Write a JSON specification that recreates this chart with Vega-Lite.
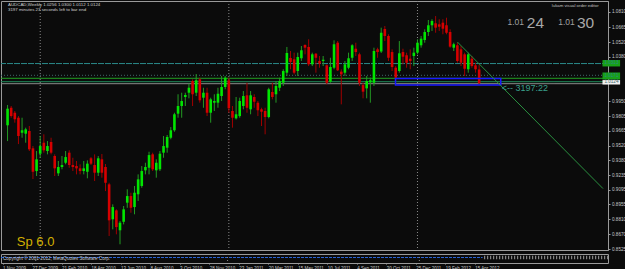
{
"$schema":"https://vega.github.io/schema/vega-lite/v6.json",
"background":"#0b0b0b",
"padding":0,
"spacing":1,
"config":{"view":{"stroke":"#9a9a9a","strokeWidth":1},"font":"Liberation Sans","axis":{"grid":false,"labelOverlap":false,"labelBound":false,"labelFlush":false}},
"datasets":{
"candles":[
{"d":"2009-11-01","o":0.9718,"h":0.9913,"l":0.9566,"c":0.9878},
{"d":"2009-11-08","o":0.9887,"h":0.9904,"l":0.9791,"c":0.9807},
{"d":"2009-11-15","o":0.9839,"h":0.9856,"l":0.9743,"c":0.9776},
{"d":"2009-11-22","o":0.9791,"h":0.9807,"l":0.9537,"c":0.9615},
{"d":"2009-11-29","o":0.9646,"h":0.9791,"l":0.9598,"c":0.9670},
{"d":"2009-12-06","o":0.9637,"h":0.9695,"l":0.9550,"c":0.9679},
{"d":"2009-12-13","o":0.9663,"h":0.9711,"l":0.9470,"c":0.9486},
{"d":"2009-12-20","o":0.9496,"h":0.9518,"l":0.9200,"c":0.9270},
{"d":"2009-12-27","o":0.9277,"h":0.9470,"l":0.9229,"c":0.9390},
{"d":"2010-01-03","o":0.9444,"h":0.9615,"l":0.9405,"c":0.9518},
{"d":"2010-01-10","o":0.9550,"h":0.9631,"l":0.9454,"c":0.9477},
{"d":"2010-01-17","o":0.9470,"h":0.9566,"l":0.9438,"c":0.9518},
{"d":"2010-01-24","o":0.9557,"h":0.9598,"l":0.9438,"c":0.9454},
{"d":"2010-01-31","o":0.9422,"h":0.9438,"l":0.9229,"c":0.9303},
{"d":"2010-02-07","o":0.9255,"h":0.9374,"l":0.9229,"c":0.9316},
{"d":"2010-02-14","o":0.9316,"h":0.9422,"l":0.9294,"c":0.9335},
{"d":"2010-02-21","o":0.9357,"h":0.9470,"l":0.9342,"c":0.9412},
{"d":"2010-02-28","o":0.9454,"h":0.9477,"l":0.9309,"c":0.9335},
{"d":"2010-03-07","o":0.9335,"h":0.9405,"l":0.9277,"c":0.9316},
{"d":"2010-03-14","o":0.9325,"h":0.9374,"l":0.9245,"c":0.9303},
{"d":"2010-03-21","o":0.9303,"h":0.9342,"l":0.9245,"c":0.9277},
{"d":"2010-03-28","o":0.9277,"h":0.9374,"l":0.9245,"c":0.9303},
{"d":"2010-04-04","o":0.9270,"h":0.9380,"l":0.9207,"c":0.9348},
{"d":"2010-04-11","o":0.9400,"h":0.9412,"l":0.9335,"c":0.9348},
{"d":"2010-04-18","o":0.9335,"h":0.9438,"l":0.9181,"c":0.9261},
{"d":"2010-04-25","o":0.9261,"h":0.9422,"l":0.9229,"c":0.9400},
{"d":"2010-05-02","o":0.9390,"h":0.9441,"l":0.9213,"c":0.9261},
{"d":"2010-05-09","o":0.9316,"h":0.9345,"l":0.9084,"c":0.9164},
{"d":"2010-05-16","o":0.9149,"h":0.9164,"l":0.8651,"c":0.8802},
{"d":"2010-05-23","o":0.8812,"h":0.8956,"l":0.8715,"c":0.8930},
{"d":"2010-05-30","o":0.8898,"h":0.8908,"l":0.8667,"c":0.8737},
{"d":"2010-06-06","o":0.8706,"h":0.8795,"l":0.8571,"c":0.8779},
{"d":"2010-06-13","o":0.8788,"h":0.8940,"l":0.8763,"c":0.8908},
{"d":"2010-06-20","o":0.8972,"h":0.9101,"l":0.8923,"c":0.9036},
{"d":"2010-06-27","o":0.9036,"h":0.9068,"l":0.8875,"c":0.8923},
{"d":"2010-07-04","o":0.8930,"h":0.9133,"l":0.8860,"c":0.9068},
{"d":"2010-07-11","o":0.9053,"h":0.9245,"l":0.8988,"c":0.9197},
{"d":"2010-07-18","o":0.9133,"h":0.9325,"l":0.9116,"c":0.9277},
{"d":"2010-07-25","o":0.9284,"h":0.9357,"l":0.9245,"c":0.9316},
{"d":"2010-08-01","o":0.9309,"h":0.9463,"l":0.9245,"c":0.9431},
{"d":"2010-08-08","o":0.9438,"h":0.9454,"l":0.9277,"c":0.9294},
{"d":"2010-08-15","o":0.9284,"h":0.9390,"l":0.9213,"c":0.9357},
{"d":"2010-08-22","o":0.9294,"h":0.9470,"l":0.9277,"c":0.9444},
{"d":"2010-08-29","o":0.9454,"h":0.9615,"l":0.9405,"c":0.9518},
{"d":"2010-09-05","o":0.9502,"h":0.9624,"l":0.9454,"c":0.9605},
{"d":"2010-09-12","o":0.9598,"h":0.9701,"l":0.9583,"c":0.9670},
{"d":"2010-09-19","o":0.9670,"h":0.9839,"l":0.9656,"c":0.9824},
{"d":"2010-09-26","o":0.9830,"h":1.0017,"l":0.9791,"c":0.9904},
{"d":"2010-10-03","o":0.9904,"h":1.0032,"l":0.9791,"c":0.9952},
{"d":"2010-10-10","o":0.9991,"h":1.0032,"l":0.9904,"c":1.0010},
{"d":"2010-10-17","o":1.0032,"h":1.0119,"l":0.9978,"c":1.0080},
{"d":"2010-10-24","o":1.0145,"h":1.0161,"l":0.9904,"c":1.0017},
{"d":"2010-10-31","o":1.0032,"h":1.0212,"l":1.0000,"c":1.0152},
{"d":"2010-11-07","o":1.0161,"h":1.0177,"l":0.9936,"c":0.9959},
{"d":"2010-11-14","o":0.9984,"h":1.0080,"l":0.9887,"c":1.0032},
{"d":"2010-11-21","o":1.0032,"h":1.0080,"l":0.9807,"c":0.9839},
{"d":"2010-11-28","o":0.9839,"h":0.9984,"l":0.9743,"c":0.9968},
{"d":"2010-12-05","o":0.9936,"h":1.0017,"l":0.9856,"c":0.9952},
{"d":"2010-12-12","o":0.9936,"h":1.0080,"l":0.9887,"c":1.0022},
{"d":"2010-12-19","o":1.0000,"h":1.0193,"l":0.9952,"c":1.0087},
{"d":"2010-12-26","o":1.0087,"h":1.0193,"l":1.0065,"c":1.0177},
{"d":"2011-01-02","o":1.0152,"h":1.0177,"l":0.9839,"c":0.9882},
{"d":"2011-01-09","o":0.9856,"h":0.9904,"l":0.9695,"c":0.9791},
{"d":"2011-01-16","o":0.9785,"h":0.9991,"l":0.9774,"c":0.9824},
{"d":"2011-01-23","o":0.9807,"h":0.9984,"l":0.9791,"c":0.9952},
{"d":"2011-01-30","o":0.9904,"h":1.0048,"l":0.9872,"c":1.0000},
{"d":"2011-02-06","o":1.0007,"h":1.0128,"l":0.9839,"c":0.9887},
{"d":"2011-02-13","o":0.9872,"h":1.0048,"l":0.9824,"c":1.0007},
{"d":"2011-02-20","o":0.9991,"h":1.0017,"l":0.9887,"c":0.9945},
{"d":"2011-02-27","o":0.9936,"h":0.9952,"l":0.9807,"c":0.9862},
{"d":"2011-03-06","o":0.9872,"h":0.9887,"l":0.9711,"c":0.9849},
{"d":"2011-03-13","o":0.9856,"h":0.9887,"l":0.9631,"c":0.9798},
{"d":"2011-03-20","o":0.9798,"h":1.0080,"l":0.9785,"c":1.0065},
{"d":"2011-03-27","o":1.0039,"h":1.0128,"l":0.9968,"c":0.9991},
{"d":"2011-04-03","o":1.0017,"h":1.0145,"l":0.9936,"c":1.0097},
{"d":"2011-04-10","o":1.0080,"h":1.0177,"l":1.0048,"c":1.0145},
{"d":"2011-04-17","o":1.0128,"h":1.0258,"l":1.0097,"c":1.0241},
{"d":"2011-04-24","o":1.0225,"h":1.0473,"l":1.0193,"c":1.0415},
{"d":"2011-05-01","o":1.0367,"h":1.0434,"l":1.0258,"c":1.0328},
{"d":"2011-05-08","o":1.0354,"h":1.0418,"l":1.0209,"c":1.0225},
{"d":"2011-05-15","o":1.0241,"h":1.0418,"l":1.0193,"c":1.0376},
{"d":"2011-05-22","o":1.0364,"h":1.0482,"l":1.0338,"c":1.0441},
{"d":"2011-05-29","o":1.0492,"h":1.0499,"l":1.0402,"c":1.0466},
{"d":"2011-06-05","o":1.0473,"h":1.0547,"l":1.0289,"c":1.0306},
{"d":"2011-06-12","o":1.0306,"h":1.0418,"l":1.0289,"c":1.0402},
{"d":"2011-06-19","o":1.0408,"h":1.0415,"l":1.0225,"c":1.0369},
{"d":"2011-06-26","o":1.0338,"h":1.0386,"l":1.0273,"c":1.0312},
{"d":"2011-07-03","o":1.0338,"h":1.0386,"l":1.0289,"c":1.0350},
{"d":"2011-07-10","o":1.0296,"h":1.0306,"l":1.0113,"c":1.0128},
{"d":"2011-07-17","o":1.0138,"h":1.0369,"l":1.0128,"c":1.0280},
{"d":"2011-07-24","o":1.0273,"h":1.0537,"l":1.0258,"c":1.0499},
{"d":"2011-07-31","o":1.0514,"h":1.0530,"l":1.0241,"c":1.0248},
{"d":"2011-08-07","o":1.0235,"h":1.0258,"l":0.9920,"c":1.0209},
{"d":"2011-08-14","o":1.0225,"h":1.0338,"l":1.0193,"c":1.0306},
{"d":"2011-08-21","o":1.0273,"h":1.0418,"l":1.0258,"c":1.0364},
{"d":"2011-08-28","o":1.0369,"h":1.0499,"l":1.0338,"c":1.0489},
{"d":"2011-09-04","o":1.0456,"h":1.0514,"l":1.0386,"c":1.0424},
{"d":"2011-09-11","o":1.0402,"h":1.0418,"l":1.0097,"c":1.0128},
{"d":"2011-09-18","o":1.0106,"h":1.0128,"l":0.9978,"c":1.0042},
{"d":"2011-09-25","o":1.0074,"h":1.0193,"l":0.9978,"c":1.0145},
{"d":"2011-10-02","o":1.0132,"h":1.0177,"l":0.9936,"c":1.0152},
{"d":"2011-10-09","o":1.0128,"h":1.0466,"l":1.0097,"c":1.0434},
{"d":"2011-10-16","o":1.0450,"h":1.0466,"l":1.0369,"c":1.0424},
{"d":"2011-10-23","o":1.0429,"h":1.0659,"l":1.0415,"c":1.0610},
{"d":"2011-10-30","o":1.0646,"h":1.0675,"l":1.0530,"c":1.0579},
{"d":"2011-11-06","o":1.0579,"h":1.0595,"l":1.0338,"c":1.0369},
{"d":"2011-11-13","o":1.0424,"h":1.0450,"l":1.0241,"c":1.0280},
{"d":"2011-11-20","o":1.0273,"h":1.0289,"l":1.0145,"c":1.0177},
{"d":"2011-11-27","o":1.0241,"h":1.0530,"l":1.0225,"c":1.0412},
{"d":"2011-12-04","o":1.0424,"h":1.0456,"l":1.0306,"c":1.0379},
{"d":"2011-12-11","o":1.0393,"h":1.0418,"l":1.0273,"c":1.0321},
{"d":"2011-12-18","o":1.0360,"h":1.0450,"l":1.0258,"c":1.0338},
{"d":"2011-12-25","o":1.0386,"h":1.0466,"l":1.0289,"c":1.0418},
{"d":"2012-01-01","o":1.0418,"h":1.0547,"l":1.0402,"c":1.0514},
{"d":"2012-01-08","o":1.0489,"h":1.0579,"l":1.0466,"c":1.0553},
{"d":"2012-01-15","o":1.0540,"h":1.0643,"l":1.0514,"c":1.0617},
{"d":"2012-01-22","o":1.0617,"h":1.0733,"l":1.0579,"c":1.0682},
{"d":"2012-01-29","o":1.0682,"h":1.0740,"l":1.0627,"c":1.0723},
{"d":"2012-02-05","o":1.0701,"h":1.0771,"l":1.0610,"c":1.0659},
{"d":"2012-02-12","o":1.0691,"h":1.0740,"l":1.0627,"c":1.0668},
{"d":"2012-02-19","o":1.0707,"h":1.0740,"l":1.0595,"c":1.0649},
{"d":"2012-02-26","o":1.0682,"h":1.0755,"l":1.0595,"c":1.0610},
{"d":"2012-03-04","o":1.0617,"h":1.0643,"l":1.0466,"c":1.0476},
{"d":"2012-03-11","o":1.0466,"h":1.0514,"l":1.0434,"c":1.0499},
{"d":"2012-03-18","o":1.0489,"h":1.0514,"l":1.0321,"c":1.0338},
{"d":"2012-03-25","o":1.0450,"h":1.0482,"l":1.0289,"c":1.0321},
{"d":"2012-04-01","o":1.0402,"h":1.0418,"l":1.0193,"c":1.0263},
{"d":"2012-04-08","o":1.0258,"h":1.0418,"l":1.0225,"c":1.0402},
{"d":"2012-04-15","o":1.0360,"h":1.0386,"l":1.0273,"c":1.0289},
{"d":"2012-04-22","o":1.0296,"h":1.0321,"l":1.0225,"c":1.0258},
{"d":"2012-04-29","o":1.0256,"h":1.0300,"l":1.0112,"c":1.0124}
],
"hlines":[
{"p":1.0313,"k":"a"},{"p":1.0200,"k":"b"},{"p":1.0171,"k":"c"},{"p":1.0138,"k":"d"},{"p":1.0119,"k":"e"}
],
"seps":[{"d":"2010-01-03"},{"d":"2011-01-02"},{"d":"2012-01-01"}]
},
"vconcat":[
{
"width":607,"height":249,
"resolve":{"axis":{"x":"independent","y":"independent"}},
"layer":[
{"data":{"name":"hlines"},"mark":{"type":"rule","strokeWidth":1},
 "encoding":{
  "y":{"field":"p","type":"quantitative","title":null,"scale":{"domain":[0.8516,1.0916],"zero":false,"nice":false},
   "axis":{"orient":"right","values":[1.081,1.0665,1.052,1.038,0.995,0.9805,0.9665,0.952,0.938,0.9235,0.9095,0.8955,0.881,0.867,0.8525],"format":".4f","labelFontSize":4.6,"labelColor":"#c8c8c8","tickColor":"#9a9a9a","tickSize":2,"labelPadding":1.5,"domainColor":"#9a9a9a","title":null,"labelOverlap":false,"labelBound":false,"labelFlush":false}},
  "color":{"field":"k","type":"nominal","legend":null,"scale":{"domain":["a","b","c","d","e"],"range":["#2a8a8a","#3f6a6a","#22a022","#1e8c5a","#8a8a8a"]}},
  "strokeDash":{"field":"k","type":"nominal","legend":null,"scale":{"domain":["a","b","c","d","e"],"range":[[6,1],[1,2],[1,0],[1,0],[1,0]]}}
 }},
{"data":{"name":"seps"},"mark":{"type":"rule","strokeWidth":1,"strokeDash":[1,2],"color":"#8a8a8a"},
 "encoding":{"x":{"field":"d","type":"temporal","title":null,"axis":null,"scale":{"type":"utc","domain":[{"year":2009,"month":10,"date":29,"utc":true},{"year":2012,"month":12,"date":24,"utc":true}]}}}},
{"data":{"name":"candles"},"mark":{"type":"rule","strokeWidth":1},
 "encoding":{
  "x":{"field":"d","type":"temporal","title":null,"axis":null,"scale":{"type":"utc","domain":[{"year":2009,"month":10,"date":29,"utc":true},{"year":2012,"month":12,"date":24,"utc":true}]}},
  "y":{"field":"l","type":"quantitative","title":null,"axis":null,"scale":{"domain":[0.8516,1.0916],"zero":false,"nice":false}},
  "y2":{"field":"h"},
  "color":{"condition":{"test":"datum.c >= datum.o","value":"#239a23"},"value":"#a00000"}
 }},
{"data":{"name":"candles"},"mark":{"type":"bar","width":2.6},
 "encoding":{
  "x":{"field":"d","type":"temporal","title":null,"axis":null,"scale":{"type":"utc","domain":[{"year":2009,"month":10,"date":29,"utc":true},{"year":2012,"month":12,"date":24,"utc":true}]}},
  "y":{"field":"o","type":"quantitative","title":null,"axis":null,"scale":{"domain":[0.8516,1.0916],"zero":false,"nice":false}},
  "y2":{"field":"c"},
  "color":{"condition":{"test":"datum.c >= datum.o","value":"#00e600"},"value":"#d60000"}
 }},
{"data":{"values":[{"d1":"2011-11-19T14:00:00Z","d2":"2012-06-09T17:00:00Z","p1":1.0169,"p2":1.0106}]},
 "mark":{"type":"rect","fill":null,"fillOpacity":0,"stroke":"#1a1aff","strokeWidth":1.5},
 "encoding":{
  "x":{"field":"d1","type":"temporal","title":null,"axis":null,"scale":{"type":"utc","domain":[{"year":2009,"month":10,"date":29,"utc":true},{"year":2012,"month":12,"date":24,"utc":true}]}},
  "x2":{"field":"d2"},
  "y":{"field":"p1","type":"quantitative","title":null,"axis":null,"scale":{"domain":[0.8516,1.0916],"zero":false,"nice":false}},
  "y2":{"field":"p2"}
 }},
{"data":{"values":[{"d":"2012-03-18","p":1.0521},{"d":"2012-12-24","p":0.9108}]},
 "mark":{"type":"line","color":"#2a9040","strokeWidth":1},
 "encoding":{
  "x":{"field":"d","type":"temporal","title":null,"axis":null,"scale":{"type":"utc","domain":[{"year":2009,"month":10,"date":29,"utc":true},{"year":2012,"month":12,"date":24,"utc":true}]}},
  "y":{"field":"p","type":"quantitative","title":null,"axis":null,"scale":{"domain":[0.8516,1.0916],"zero":false,"nice":false}}
 }},
{"data":{"values":[{"d":"2012-06-11T12:00:00Z","p":1.0077,"t":"<-- 3197:22"}]},
 "mark":{"type":"text","align":"left","baseline":"middle","fontSize":9,"color":"#3a9f8a"},
 "encoding":{
  "x":{"field":"d","type":"temporal","title":null,"axis":null,"scale":{"type":"utc","domain":[{"year":2009,"month":10,"date":29,"utc":true},{"year":2012,"month":12,"date":24,"utc":true}]}},
  "y":{"field":"p","type":"quantitative","title":null,"axis":null,"scale":{"domain":[0.8516,1.0916],"zero":false,"nice":false}},
  "text":{"field":"t"}
 }},
{"data":{"values":[{"d":"2009-11-01T19:00:00Z","p":1.0877,"t":"AUDCAD,Weekly  1.0256 1.0300 1.0112 1.0124"},{"d":"2009-11-01T19:00:00Z","p":1.0826,"t":"3197 minutes 23 seconds left to bar end"}]},
 "mark":{"type":"text","align":"left","baseline":"middle","fontSize":4.4,"color":"#d0d0d0"},
 "encoding":{
  "x":{"field":"d","type":"temporal","title":null,"axis":null,"scale":{"type":"utc","domain":[{"year":2009,"month":10,"date":29,"utc":true},{"year":2012,"month":12,"date":24,"utc":true}]}},
  "y":{"field":"p","type":"quantitative","title":null,"axis":null,"scale":{"domain":[0.8516,1.0916],"zero":false,"nice":false}},
  "text":{"field":"t"}
 }},
{"data":{"values":[{"d":"2012-12-15T12:00:00Z","p":1.0871,"t":"lukam visual order editor"}]},
 "mark":{"type":"text","align":"right","baseline":"middle","fontSize":4.3,"color":"#c0c0c0"},
 "encoding":{
  "x":{"field":"d","type":"temporal","title":null,"axis":null,"scale":{"type":"utc","domain":[{"year":2009,"month":10,"date":29,"utc":true},{"year":2012,"month":12,"date":24,"utc":true}]}},
  "y":{"field":"p","type":"quantitative","title":null,"axis":null,"scale":{"domain":[0.8516,1.0916],"zero":false,"nice":false}},
  "text":{"field":"t"}
 }},
{"data":{"values":[{"d":"2012-06-22T14:00:00Z","p":1.0682,"t":"1.01"},{"d":"2012-09-28T17:00:00Z","p":1.0682,"t":"1.01"}]},
 "mark":{"type":"text","align":"left","baseline":"alphabetic","fontSize":8.5,"color":"#a0a0a0"},
 "encoding":{
  "x":{"field":"d","type":"temporal","title":null,"axis":null,"scale":{"type":"utc","domain":[{"year":2009,"month":10,"date":29,"utc":true},{"year":2012,"month":12,"date":24,"utc":true}]}},
  "y":{"field":"p","type":"quantitative","title":null,"axis":null,"scale":{"domain":[0.8516,1.0916],"zero":false,"nice":false}},
  "text":{"field":"t"}
 }},
{"data":{"values":[{"d":"2012-07-30T00:00:00Z","p":1.0659,"t":"24"},{"d":"2012-11-03T19:00:00Z","p":1.0659,"t":"30"}]},
 "mark":{"type":"text","align":"left","baseline":"alphabetic","fontSize":15.5,"color":"#a8a8a8"},
 "encoding":{
  "x":{"field":"d","type":"temporal","title":null,"axis":null,"scale":{"type":"utc","domain":[{"year":2009,"month":10,"date":29,"utc":true},{"year":2012,"month":12,"date":24,"utc":true}]}},
  "y":{"field":"p","type":"quantitative","title":null,"axis":null,"scale":{"domain":[0.8516,1.0916],"zero":false,"nice":false}},
  "text":{"field":"t"}
 }},
{"data":{"values":[{"d":"2009-11-18T22:00:00Z","p":0.8554,"t":"Sp 6.0"}]},
 "mark":{"type":"text","align":"left","baseline":"alphabetic","fontSize":13,"color":"#d2b000"},
 "encoding":{
  "x":{"field":"d","type":"temporal","title":null,"axis":null,"scale":{"type":"utc","domain":[{"year":2009,"month":10,"date":29,"utc":true},{"year":2012,"month":12,"date":24,"utc":true}]}},
  "y":{"field":"p","type":"quantitative","title":null,"axis":null,"scale":{"domain":[0.8516,1.0916],"zero":false,"nice":false}},
  "text":{"field":"t"}
 }},
{"data":{"values":[
  {"d1":"2012-12-23T00:00:00Z","d2":"2013-01-26T00:00:00Z","p1":1.0347,"p2":1.0285,"k":"g"},
  {"d1":"2012-12-23T00:00:00Z","d2":"2013-01-26T00:00:00Z","p1":1.0227,"p2":1.0159,"k":"g"},
  {"d1":"2012-12-23T00:00:00Z","d2":"2013-01-26T00:00:00Z","p1":1.0154,"p2":1.0111,"k":"w"}]},
 "mark":{"type":"rect"},
 "encoding":{
  "x":{"field":"d1","type":"temporal","title":null,"axis":null,"scale":{"type":"utc","domain":[{"year":2009,"month":10,"date":29,"utc":true},{"year":2012,"month":12,"date":24,"utc":true}]}},
  "x2":{"field":"d2"},
  "y":{"field":"p1","type":"quantitative","title":null,"axis":null,"scale":{"domain":[0.8516,1.0916],"zero":false,"nice":false}},
  "y2":{"field":"p2"},
  "fill":{"field":"k","type":"nominal","legend":null,"scale":{"domain":["g","w"],"range":["#18a018","#f0f0f0"]}}
 }},
{"data":{"values":[
  {"d":"2013-01-09T07:00:00Z","p":1.0315,"t":"1.0313","k":"g"},
  {"d":"2013-01-09T07:00:00Z","p":1.0193,"t":"1.0171","k":"g"},
  {"d":"2013-01-09T07:00:00Z","p":1.0132,"t":"1.0124","k":"w"}]},
 "mark":{"type":"text","align":"center","baseline":"middle","fontSize":4.6},
 "encoding":{
  "x":{"field":"d","type":"temporal","title":null,"axis":null,"scale":{"type":"utc","domain":[{"year":2009,"month":10,"date":29,"utc":true},{"year":2012,"month":12,"date":24,"utc":true}]}},
  "y":{"field":"p","type":"quantitative","title":null,"axis":null,"scale":{"domain":[0.8516,1.0916],"zero":false,"nice":false}},
  "text":{"field":"t"},
  "color":{"field":"k","type":"nominal","legend":null,"scale":{"domain":["g","w"],"range":["#e8ffe8","#000000"]}}
 }}
]
},
{
"width":607,"height":9,
"resolve":{"axis":{"x":"independent","y":"independent"}},
"layer":[
{"data":{"values":[{"d1":"2009-10-29","d2":"2012-04-30","v":5.5}]},
 "mark":{"type":"rule","color":"#2a64d4","strokeWidth":1,"strokeDash":[3,1]},
 "encoding":{
  "x":{"field":"d1","type":"temporal","title":null,"scale":{"type":"utc","domain":[{"year":2009,"month":10,"date":29,"utc":true},{"year":2012,"month":12,"date":24,"utc":true}]},
   "axis":{"values":[
    {"year":2009,"month":11,"date":1,"utc":true},{"year":2009,"month":12,"date":27,"utc":true},{"year":2010,"month":2,"date":21,"utc":true},
    {"year":2010,"month":4,"date":18,"utc":true},{"year":2010,"month":6,"date":13,"utc":true},{"year":2010,"month":8,"date":8,"utc":true},
    {"year":2010,"month":10,"date":3,"utc":true},{"year":2010,"month":11,"date":28,"utc":true},{"year":2011,"month":1,"date":23,"utc":true},
    {"year":2011,"month":3,"date":20,"utc":true},{"year":2011,"month":5,"date":15,"utc":true},{"year":2011,"month":7,"date":10,"utc":true},
    {"year":2011,"month":9,"date":4,"utc":true},{"year":2011,"month":10,"date":30,"utc":true},{"year":2011,"month":12,"date":25,"utc":true},
    {"year":2012,"month":2,"date":19,"utc":true},{"year":2012,"month":4,"date":15,"utc":true}],
    "labelExpr":"utcFormat(datum.value, '%-d %b %Y')","labelFontSize":4.5,"labelColor":"#c8c8c8","tickSize":1,"tickColor":"#9a9a9a","domain":false,"labelAlign":"left","labelPadding":1,"title":null,"labelFlush":false,"labelOverlap":false,"labelBound":false}},
  "x2":{"field":"d2"},
  "y":{"field":"v","type":"quantitative","title":null,"axis":null,"scale":{"domain":[0,9],"zero":false,"nice":false}}
 }},
{"data":{"values":[{"d1":"2012-05-03","d2":"2012-12-24","v":5.5}]},
 "mark":{"type":"rule","color":"#a0a0a0","strokeWidth":3.5,"strokeDash":[1,2]},
 "encoding":{
  "x":{"field":"d1","type":"temporal","title":null,"axis":null,"scale":{"type":"utc","domain":[{"year":2009,"month":10,"date":29,"utc":true},{"year":2012,"month":12,"date":24,"utc":true}]}},
  "x2":{"field":"d2"},
  "y":{"field":"v","type":"quantitative","title":null,"axis":null,"scale":{"domain":[0,9],"zero":false,"nice":false}}
 }},
{"data":{"name":"seps"},"mark":{"type":"rule","strokeWidth":1,"strokeDash":[1,2],"color":"#8a8a8a"},
 "encoding":{"x":{"field":"d","type":"temporal","title":null,"axis":null,"scale":{"type":"utc","domain":[{"year":2009,"month":10,"date":29,"utc":true},{"year":2012,"month":12,"date":24,"utc":true}]}}}},
{"data":{"values":[{"d":"2009-11-01T19:00:00Z","v":4.2,"t":"Copyright © 2001-2012, MetaQuotes Software Corp."}]},
 "mark":{"type":"text","align":"left","baseline":"middle","fontSize":4.6,"color":"#c8c8c8"},
 "encoding":{
  "x":{"field":"d","type":"temporal","title":null,"axis":null,"scale":{"type":"utc","domain":[{"year":2009,"month":10,"date":29,"utc":true},{"year":2012,"month":12,"date":24,"utc":true}]}},
  "y":{"field":"v","type":"quantitative","title":null,"axis":null,"scale":{"domain":[0,9],"zero":false,"nice":false}},
  "text":{"field":"t"}
 }}
]
}
]
}
